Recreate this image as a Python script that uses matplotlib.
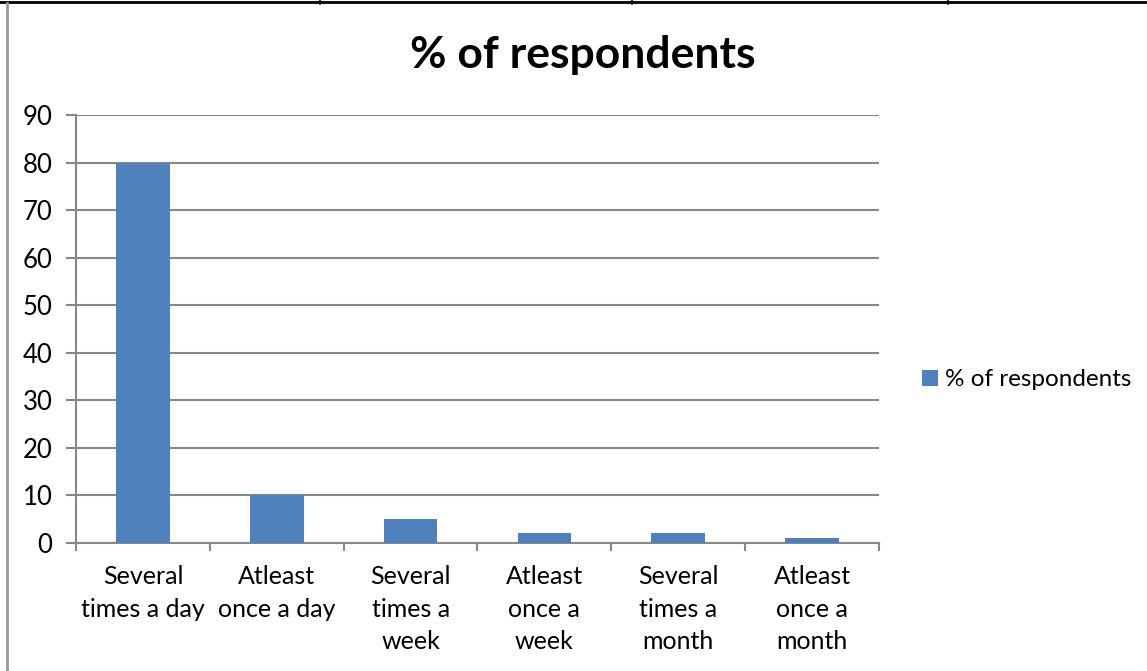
import matplotlib.pyplot as plt
import numpy as np
from matplotlib.lines import Line2D

categories = [
    "Several\ntimes a day",
    "Atleast\nonce a day",
    "Several\ntimes a\nweek",
    "Atleast\nonce a\nweek",
    "Several\ntimes a\nmonth",
    "Atleast\nonce a\nmonth",
]
respondents = [80, 10, 5, 2, 2, 1]
y_ticks = [0, 10, 20, 30, 40, 50, 60, 70, 80, 90]

bar_color = "#4F81BD"
axis_gray = "#888888"

plt.rcParams["font.family"] = ["Lato", "DejaVu Sans"]

fig = plt.figure(figsize=(11.47, 6.71), dpi=100)
ax = fig.add_axes([0.0663, 0.1908, 0.7000, 0.6378])

x = np.arange(len(categories))
ax.bar(x, respondents, width=0.4, color=bar_color, zorder=3, label="% of respondents")

ax.set_xlim(-0.5, len(categories) - 0.5)
ax.set_ylim(0, 90)
ax.set_yticks(y_ticks)
ax.yaxis.grid(True, color=axis_gray, linewidth=1.5, zorder=0)

# category labels at centres, tick marks at boundaries
ax.set_xticks(x)
ax.set_xticklabels(categories, fontsize=18, va="top")
for lbl in ax.get_xticklabels():
    lbl.set_linespacing(1.5)
ax.set_xticks(np.arange(-0.5, len(categories)), minor=True)
ax.tick_params(axis="x", which="major", length=0, pad=16)
ax.tick_params(axis="x", which="minor", length=6, width=1.5, color=axis_gray)
ax.tick_params(axis="y", length=7, width=1.5, color=axis_gray, labelsize=18.5, pad=10)

for side in ["top", "right"]:
    ax.spines[side].set_visible(False)
for side in ["left", "bottom"]:
    ax.spines[side].set_color(axis_gray)
    ax.spines[side].set_linewidth(1.5)

fig.text(0.508, 0.918, "% of respondents", ha="center", va="center",
         fontsize=32, fontweight="bold")

fig.legend(loc="center left", bbox_to_anchor=(0.785, 0.434), frameon=False,
           fontsize=17.5, handlelength=0.65, handleheight=0.65, handletextpad=0.3)

# surrounding table-cell border
fig.add_artist(Line2D([0, 1], [0.997, 0.997], color="black", linewidth=2.0,
                      transform=fig.transFigure))
fig.add_artist(Line2D([0.0057, 0.0057], [0, 0.996], color="#999999", linewidth=2.0,
                      transform=fig.transFigure))
for xv in [320, 632, 948]:
    fig.add_artist(Line2D([xv / 1147, xv / 1147], [0.994, 1.0], color="black",
                          linewidth=1.2, transform=fig.transFigure))

fig.savefig("out.png", dpi=100)
